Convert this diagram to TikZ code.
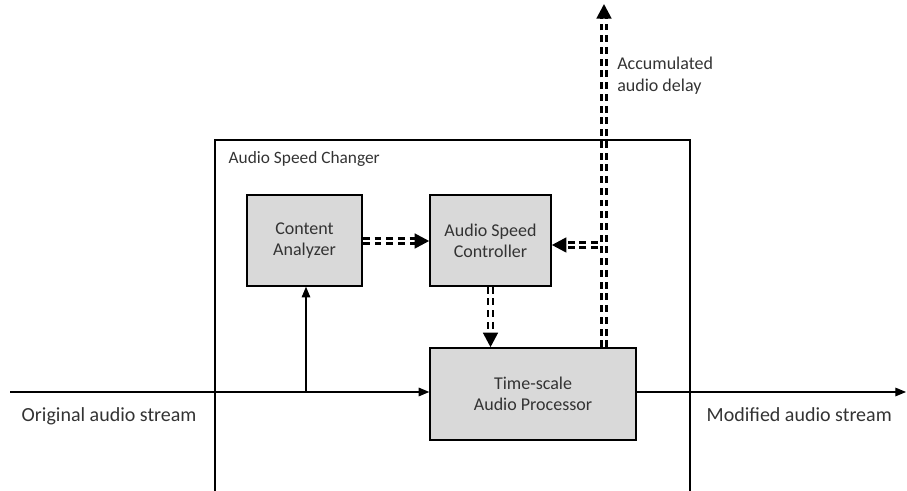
\documentclass[tikz,border=0pt]{standalone}
\usepackage{fontspec}
\setmainfont{Carlito}
\usetikzlibrary{arrows.meta}

\begin{document}
\begin{tikzpicture}[x=0.75pt,y=0.75pt]
        \tikzstyle{every node}=[font=\fontsize{13.5}{16}\selectfont, text=black!80]
        \tikzstyle{block}=[draw, line width=1.1pt, fill=black!15, align=center, inner sep=2pt]
        \tikzstyle{flow}=[line width=0.8pt, -{Triangle[length=8pt,width=6.5pt]}]
        \tikzstyle{ctrl}=[double, double distance=1.6pt, line width=2.1pt, dash pattern=on 5.2pt off 3.6pt, -{Triangle[length=11pt,width=11pt]}]
        \useasboundingbox (0,0) rectangle (907,491);
        % outer box
        \draw[line width=0.8pt] (215,-10) rectangle (690,351);
        \node[anchor=north west, font=\fontsize{13}{15}\selectfont] (title) at (224,344) {Audio Speed Changer};
        % blocks
        \node[block, minimum width=86.3pt, minimum height=68.3pt] (ca) at (304.5,250.5) {Content\\Analyzer};
        \node[block, minimum width=90.8pt, minimum height=68.3pt] (asc) at (490.5,250.5) {Audio Speed\\Controller};
        \node[block, minimum width=154.5pt, minimum height=69pt] (tsap) at (533,97) {Time-scale\\Audio Processor};
        % audio streams
        \coordinate (in) at (10,99);
        \coordinate (br) at (306,99);
        \coordinate (out) at (906,99);
        \draw[flow] (in) -- (in -| tsap.west);
        \draw[flow] (br) -- (br |- ca.south);
        \draw[flow] (tsap.east |- out) -- (out);
        \node[anchor=north west, font=\fontsize{15}{17}\selectfont] (orig) at (17,88) {Original audio stream};
        \node[anchor=north west, font=\fontsize{15}{17}\selectfont] (mod) at (702,88) {Modified audio stream};
        % control signals
        \coordinate (up) at (604,487);
        \coordinate (fb) at (598,246);
        \draw[ctrl] (ca.east |- 0,250) -- (asc.west |- 0,250);
        \draw[ctrl] (fb) -- (fb -| asc.east);
        \draw[ctrl] (asc.south) -- (asc.south |- tsap.north);
        \draw[ctrl] (up |- tsap.north) -- (up);
        \node[anchor=north west, align=left, inner sep=0pt] (delay) at (617,434) {Accumulated\\audio delay};
    \end{tikzpicture}
\end{document}
